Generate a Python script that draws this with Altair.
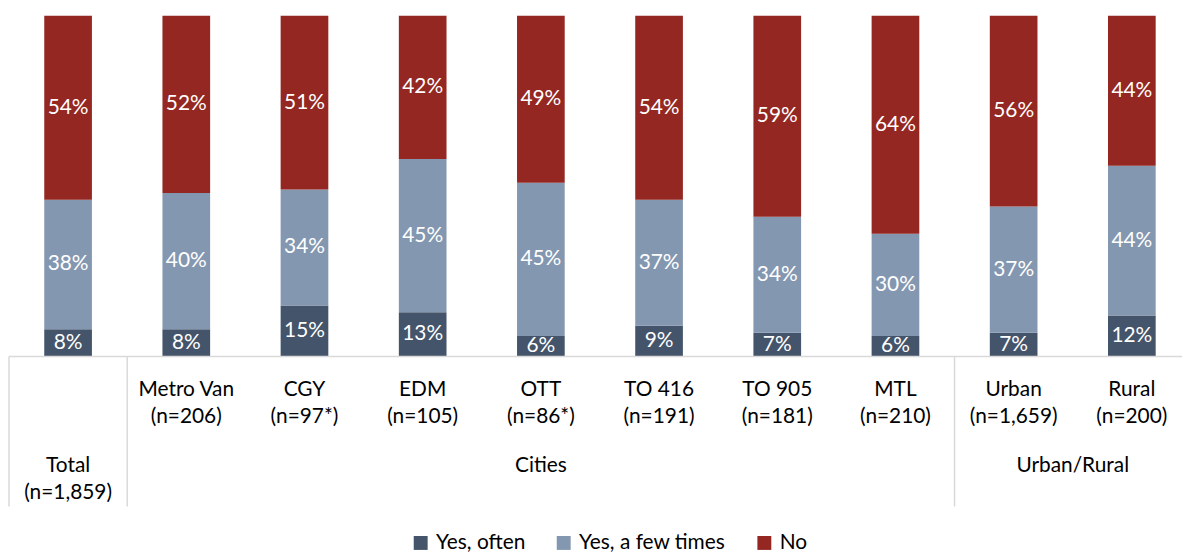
import altair as alt
import pandas as pd

cats = ["Total", "Metro Van", "CGY", "EDM", "OTT", "TO 416", "TO 905", "MTL", "Urban", "Rural"]
ns = ["(n=1,859)", "(n=206)", "(n=97*)", "(n=105)", "(n=86*)", "(n=191)", "(n=181)", "(n=210)", "(n=1,659)", "(n=200)"]
often = [8, 8, 15, 13, 6, 9, 7, 6, 7, 12]
few = [38, 40, 34, 45, 45, 37, 34, 30, 37, 44]
no = [54, 52, 51, 42, 49, 54, 59, 64, 56, 44]
series = ["Yes, often", "Yes, a few times", "No"]
colors = ["#44546A", "#8497B0", "#942721"]

groups = ["Cities", "Urban/Rural"]
group_at = ["OTT", "Rural"]
separators = ["Total", "Metro Van", "Urban"]

rows = []
for i, c in enumerate(cats):
    cum = 0
    for k, (s, vals) in enumerate(zip(series, [often, few, no])):
        v = vals[i]
        rows.append({"cat": c, "series": s, "value": v, "order": k,
                     "mid": cum + v / 2, "label": f"{v}%"})
        cum += v
df = pd.DataFrame(rows)

lab = pd.DataFrame({"cat": cats, "line1": cats, "line2": ns})
lab_cities = lab[lab["cat"] != "Total"]
lab_total = lab[lab["cat"] == "Total"]
grp = pd.DataFrame({"cat": group_at, "name": groups})
sep = pd.DataFrame({"cat": separators})
base = pd.DataFrame({"y": [0]})

H = 343
FONT = "Lato"
xscale = alt.Scale(domain=cats, range=[0, 1190], paddingInner=0, paddingOuter=0)
yscale = alt.Scale(domain=[0, 100])


def X(**kw):
    return alt.X("cat:N", sort=cats, scale=xscale, title=None, axis=None, **kw)


bars = alt.Chart(df).mark_bar(width=48).encode(
    x=X(),
    y=alt.Y("value:Q", stack="zero", scale=yscale, axis=None),
    color=alt.Color("series:N", scale=alt.Scale(domain=series, range=colors),
                    legend=alt.Legend(title=None, orient="none", direction="horizontal",
                                      legendX=404, legendY=520, symbolType="square",
                                      symbolSize=196, symbolStrokeWidth=0,
                                      labelFontSize=21, labelFont=FONT,
                                      labelColor="#000000", columnPadding=28,
                                      labelOffset=5)),
    order=alt.Order("order:Q"),
)

texts = alt.Chart(df).mark_text(color="white", fontSize=21, font=FONT).encode(
    x=X(),
    y=alt.Y("mid:Q", scale=yscale, axis=None),
    text="label:N",
)

baseline = alt.Chart(base).mark_rule(color="#D9D9D9", strokeWidth=1.5).encode(
    y=alt.Y("y:Q", scale=yscale, axis=None), x=alt.value(0), x2=alt.value(1190))

common = dict(font=FONT, fontSize=21, color="#000000", baseline="alphabetic")

l1 = alt.Chart(lab_cities).mark_text(**common).encode(
    x=X(), y=alt.value(H + 40), text="line1:N")
l2 = alt.Chart(lab_cities).mark_text(**common).encode(
    x=X(), y=alt.value(H + 67), text="line2:N")
t1 = alt.Chart(lab_total).mark_text(**common).encode(
    x=X(), y=alt.value(H + 116), text="line1:N")
t2 = alt.Chart(lab_total).mark_text(**common).encode(
    x=X(), y=alt.value(H + 143), text="line2:N")
g_c = alt.Chart(grp[grp["name"] == "Cities"]).mark_text(**common).encode(
    x=X(), y=alt.value(H + 116), text="name:N")
g_u = alt.Chart(grp[grp["name"] == "Urban/Rural"]).mark_text(**common).encode(
    x=X(bandPosition=0), y=alt.value(H + 116), text="name:N")

seps = alt.Chart(sep).mark_rule(color="#D9D9D9", strokeWidth=1.5).encode(
    x=X(bandPosition=0), y=alt.value(H), y2=alt.value(H + 151))

chart = alt.layer(bars, texts, baseline, seps, l1, l2, t1, t2, g_c, g_u).properties(
    width=1181, height=H,
    autosize=alt.AutoSizeParams(type="none"),
    padding={"left": 1, "top": 6, "right": 0, "bottom": 197},
).configure_view(stroke=None)

chart.save("out.html", embed_options={"renderer": "svg", "actions": False})
